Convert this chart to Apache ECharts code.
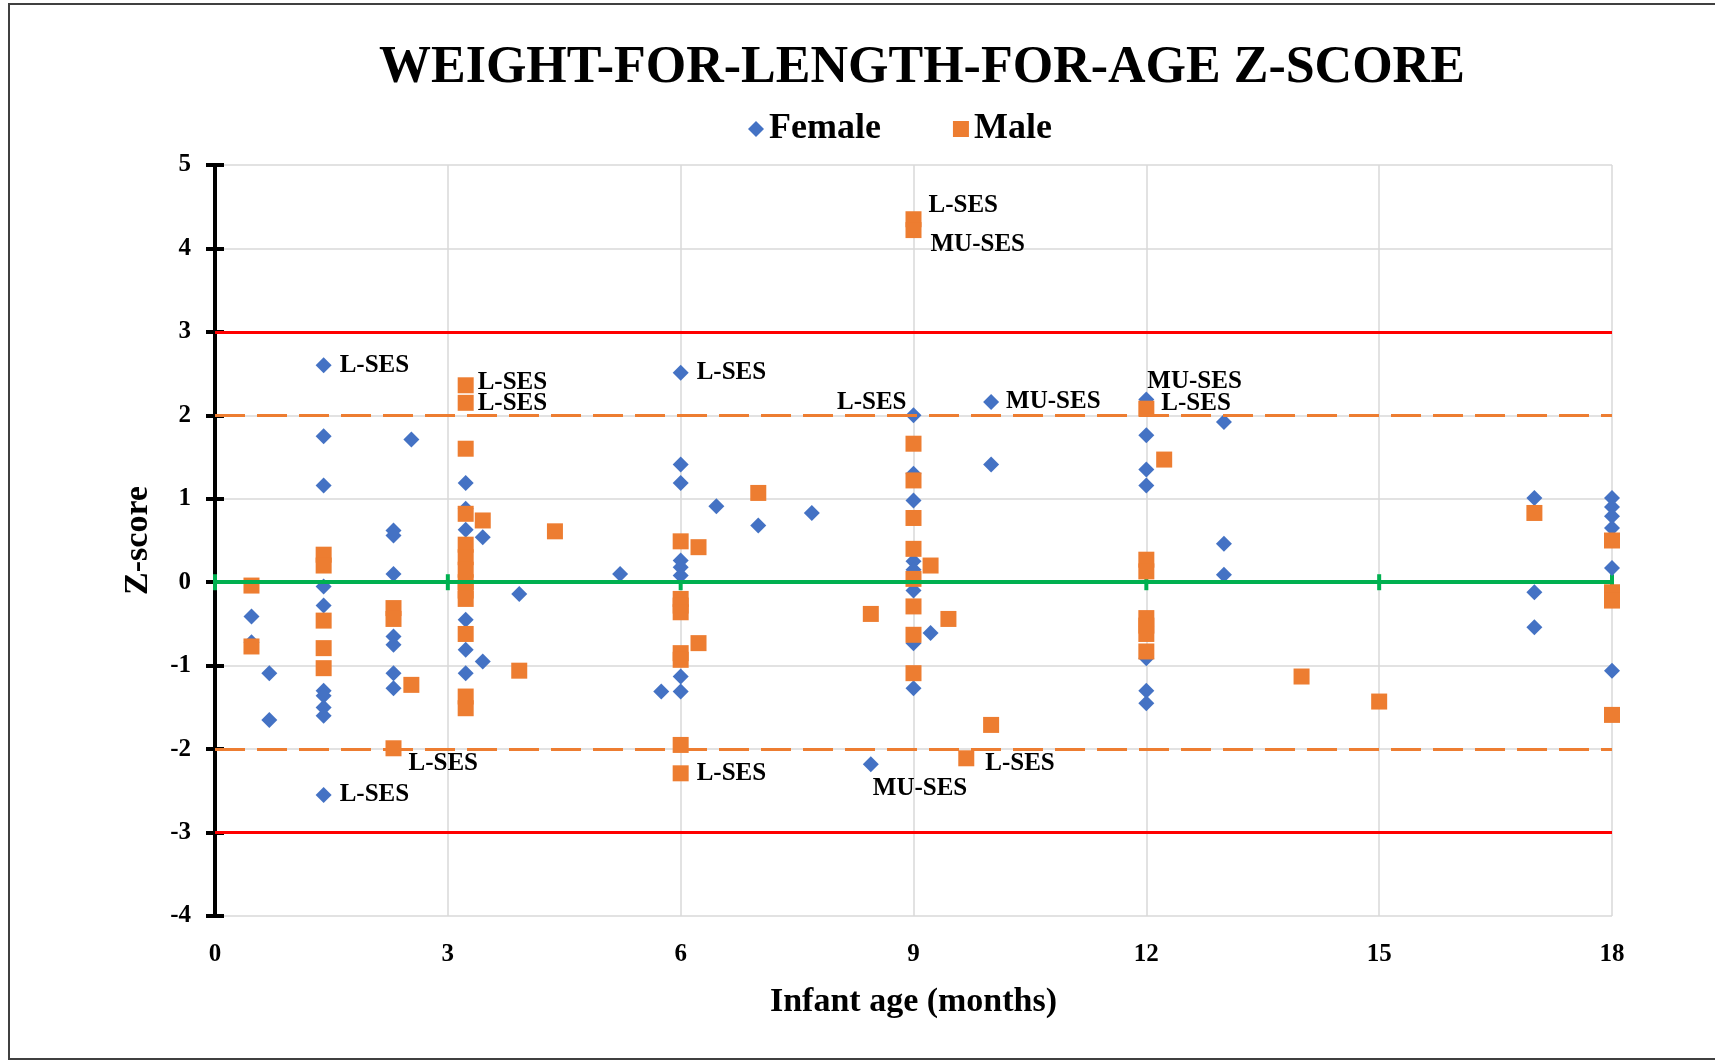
<!DOCTYPE html>
<html>
<head>
<meta charset="utf-8">
<title>Weight-for-length-for-age Z-score</title>
<script src="https://cdn.jsdelivr.net/npm/echarts@6/dist/echarts.min.js"></script>
<style>
  html, body { margin: 0; padding: 0; background: #fff; }
  #chart { width: 1715px; height: 1062px; }
</style>
</head>
<body>
<div id="chart"></div>
<script>
// ---- data: [age in months, z-score] ----
var femalePoints = [
  [0.47, -0.41], [0.47, -0.72], [0.7, -1.09], [0.7, -1.65],
  [1.4, 2.6], [1.4, 1.75], [1.4, 1.16], [1.4, -0.05], [1.4, -0.28], [1.4, -1.3],
  [1.4, -1.36], [1.4, -1.5], [1.4, -1.6], [1.4, -2.55],
  [2.3, 0.62], [2.3, 0.56], [2.3, 0.10], [2.3, -0.65], [2.3, -0.75], [2.3, -1.09], [2.3, -1.27],
  [2.53, 1.71],
  [3.23, 1.19], [3.23, 0.88], [3.23, 0.63], [3.23, -0.45], [3.23, -0.81], [3.23, -1.09],
  [3.45, 0.54], [3.45, -0.95], [3.92, -0.14], [5.22, 0.10], [5.75, -1.31],
  [6, 2.51], [6, 1.41], [6, 1.19], [6, 0.26], [6, 0.18], [6, 0.08], [6, -1.13], [6, -1.31],
  [6.46, 0.91], [7.0, 0.68], [7.69, 0.83], [8.45, -2.18],
  [9, 2.0], [9, 1.3], [9, 0.98], [9, 0.25], [9, 0.15], [9, -0.1], [9, -0.73], [9, -1.27],
  [9.22, -0.61], [10, 2.16], [10, 1.41],
  [12, 2.19], [12, 1.76], [12, 1.35], [12, 1.16], [12, -0.91], [12, -1.30], [12, -1.45],
  [13, 1.92], [13, 0.46], [13, 0.09],
  [17, 1.01], [17, -0.12], [17, -0.54],
  [18, 1.01], [18, 0.90], [18, 0.79], [18, 0.65], [18, 0.17], [18, -1.06]
];
var malePoints = [
  [0.47, -0.04], [0.47, -0.77],
  [1.4, 0.33], [1.4, 0.2], [1.4, -0.46], [1.4, -0.79], [1.4, -1.03],
  [2.3, -0.31], [2.3, -0.44], [2.3, -1.99], [2.53, -1.23],
  [3.23, 2.36], [3.23, 2.15], [3.23, 1.60], [3.23, 0.82], [3.23, 0.45], [3.23, 0.3], [3.23, 0.15],
  [3.23, 0.0], [3.23, -0.1], [3.23, -0.2], [3.23, -0.62], [3.23, -1.37], [3.23, -1.51],
  [3.45, 0.74], [3.92, -1.06], [4.38, 0.61],
  [6, 0.49], [6, -0.2], [6, -0.28], [6, -0.36], [6, -0.85], [6, -0.93], [6, -1.95], [6, -2.29],
  [6.23, 0.42], [6.23, -0.73], [7.0, 1.07], [8.45, -0.38],
  [9, 4.35], [9, 4.22], [9, 1.66], [9, 1.22], [9, 0.77], [9, 0.40], [9, 0.04], [9, -0.29],
  [9, -0.63], [9, -1.09],
  [9.22, 0.20], [9.45, -0.44], [9.68, -2.11], [10, -1.71],
  [12, 2.08], [12, 0.27], [12, 0.13], [12, -0.43], [12, -0.52], [12, -0.62], [12, -0.83],
  [12.23, 1.47], [14, -1.13], [15, -1.43], [17, 0.83],
  [18, 0.5], [18, -0.12], [18, -0.22], [18, -1.59]
];

// annotated points: [age, z, text]
var femaleNotes = [
  [1.4, 2.6, 'L-SES'], [1.4, -2.55, 'L-SES'], [6, 2.51, 'L-SES'], [9, 2.0, 'L-SES'],
  [10, 2.16, 'MU-SES'], [8.45, -2.18, 'MU-SES'], [12, 2.19, 'MU-SES']
];
var maleNotes = [
  [3.23, 2.36, 'L-SES'], [3.23, 2.15, 'L-SES'], [2.3, -1.99, 'L-SES'], [6, -2.29, 'L-SES'],
  [9, 4.35, 'L-SES'], [9, 4.22, 'MU-SES'], [9.68, -2.11, 'L-SES'], [12, 2.08, 'L-SES']
];

// reference lines and axis ticks
var severeLimits = [3, -3];
var moderateLimits = [2, -2];
var medianLine = 0;
var ageTicks = [0, 3, 6, 9, 12, 15, 18];

// ---- layout of the note texts (pixel offsets from the marker centre) ----
var femaleNoteOffsets = [[16, 0], [16, 0], [16, 0], [-7, -13], [15, 0], [2, 24], [1, -18]];
var maleNoteOffsets = [[12, -3], [12, 1], [15, 15], [16, 0], [15, -14], [17, 14], [19, 5], [15, -5]];

var serif = "'Liberation Serif', 'Times New Roman', serif";

function buildData(points, notes, offsets) {
  return points.map(function (p) {
    for (var i = 0; i < notes.length; i++) {
      if (notes[i][0] === p[0] && notes[i][1] === p[1]) {
        var off = offsets[i];
        return {
          value: p,
          label: {
            show: true,
            position: 'inside',
            formatter: notes[i][2],
            align: off[0] < 0 ? 'right' : 'left',
            verticalAlign: 'middle',
            offset: off,
            color: '#000',
            fontFamily: serif,
            fontWeight: 'bold',
            fontSize: 25
          }
        };
      }
    }
    return { value: p };
  });
}

function hLine(y, color, width, type) {
  return { yAxis: y, lineStyle: { color: color, width: width, type: type } };
}

var refLines = [];
severeLimits.forEach(function (v) { refLines.push(hLine(v, '#FF0000', 3, 'solid')); });
moderateLimits.forEach(function (v) { refLines.push(hLine(v, '#ED7D31', 3, [30, 12])); });
refLines.push(hLine(medianLine, '#00B050', 4, 'solid'));

var chart = echarts.init(document.getElementById('chart'));
var option = {
  backgroundColor: '#fff',
  animation: false,
  title: {
    text: 'WEIGHT-FOR-LENGTH-FOR-AGE Z-SCORE',
    left: 374, top: 38,
    textStyle: { fontFamily: serif, fontWeight: 'bold', fontSize: 52, color: '#000' }
  },
  legend: {
    data: ['Female', 'Male'],
    left: 743, top: 106,
    itemWidth: 16, itemHeight: 16, itemGap: 72,
    textStyle: { fontFamily: serif, fontWeight: 'bold', fontSize: 36, color: '#000' }
  },
  graphic: [{
    type: 'rect', silent: true,
    shape: { x: 9, y: 4, width: 1720, height: 1055 },
    style: { fill: 'none', stroke: '#404040', lineWidth: 2 }
  }],
  grid: { left: 215, top: 165, right: 103, bottom: 146 },
  xAxis: {
    type: 'value', min: 0, max: 18, interval: 3,
    name: 'Infant age (months)', nameLocation: 'middle', nameGap: 69,
    nameTextStyle: { fontFamily: serif, fontWeight: 'bold', fontSize: 34, color: '#000' },
    axisLine: { show: false },
    axisTick: { show: false },
    axisLabel: { margin: 26, fontFamily: serif, fontWeight: 'bold', fontSize: 25, color: '#000' },
    splitLine: { lineStyle: { color: '#d9d9d9', width: 1.5 } }
  },
  yAxis: [{
    type: 'value', min: -4, max: 5, interval: 1,
    name: 'Z-score', nameLocation: 'middle', nameGap: 60,
    nameTextStyle: { fontFamily: serif, fontWeight: 'bold', fontSize: 34, color: '#000' },
    axisLine: { show: true, lineStyle: { color: '#000', width: 4 } },
    axisTick: { show: true, length: 9, lineStyle: { color: '#000', width: 4 } },
    axisLabel: { margin: 24, fontFamily: serif, fontWeight: 'bold', fontSize: 25, color: '#000' },
    splitLine: { lineStyle: { color: '#d9d9d9', width: 1.5 } }
  }, {
    type: 'value', min: -4, max: 5, interval: 1, position: 'left', offset: 0,
    axisLine: { show: true, lineStyle: { color: '#000', width: 4 } },
    axisTick: { show: true, inside: true, length: 9, lineStyle: { color: '#000', width: 4 } },
    axisLabel: { show: false },
    splitLine: { show: false }
  }],
  series: [{
    name: 'refLines', type: 'scatter', data: [], z: 1, silent: true,
    markLine: { silent: true, symbol: 'none', label: { show: false }, data: refLines }
  }, {
    name: 'zeroTicks', type: 'scatter', z: 2, silent: true,
    symbol: 'rect', symbolSize: [4, 16],
    itemStyle: { color: '#00B050', opacity: 1 },
    data: ageTicks.map(function (a) { return [a, medianLine]; })
  }, {
    name: 'Female', type: 'scatter', z: 3,
    symbol: 'diamond', symbolSize: 16,
    itemStyle: { color: '#4472C4', opacity: 1 },
    data: buildData(femalePoints, femaleNotes, femaleNoteOffsets)
  }, {
    name: 'Male', type: 'scatter', z: 4,
    symbol: 'rect', symbolSize: 16,
    itemStyle: { color: '#ED7D31', opacity: 1 },
    data: buildData(malePoints, maleNotes, maleNoteOffsets)
  }]
};
chart.setOption(option);
</script>
</body>
</html>
